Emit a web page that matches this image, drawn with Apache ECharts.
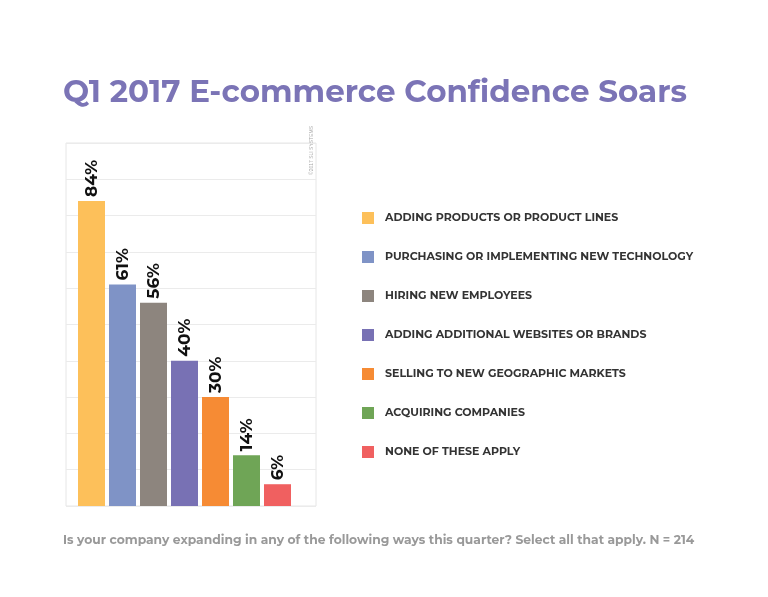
<!DOCTYPE html>
<html><head><meta charset="utf-8">
<script src="https://cdn.jsdelivr.net/npm/echarts@6/dist/echarts.min.js"></script>
<style>html,body{margin:0;background:#fff}#c{width:768px;height:597px}</style>
</head><body><div id="c"></div>
<script>
const categories = ['ADDING PRODUCTS OR PRODUCT LINES','PURCHASING OR IMPLEMENTING NEW TECHNOLOGY','HIRING NEW EMPLOYEES','ADDING ADDITIONAL WEBSITES OR BRANDS','SELLING TO NEW GEOGRAPHIC MARKETS','ACQUIRING COMPANIES','NONE OF THESE APPLY'];
const values = [84,61,56,40,30,14,6];
const colors = ['#FDC05A','#7F93C6','#8D857E','#7871B4','#F68B34','#6FA556','#F06060'];
const chart = echarts.init(document.getElementById('c'));
const font = 'Montserrat, "Open Sans", "DejaVu Sans", sans-serif';
const legendGraphics = [];
categories.forEach((c,i)=>{
  const y = 218 + i*39;
  legendGraphics.push({type:'rect',shape:{x:362,y:y-6,width:12,height:12},style:{fill:colors[i]}});
  legendGraphics.push({type:'text',x:385,y:y,style:{text:c,fill:'#333',font:'bold 11px '+font,textVerticalAlign:'middle'}});
});
chart.setOption({
  animation:false,
  title:[{text:'Q1 2017 E-commerce Confidence Soars',left:58,top:72,textStyle:{color:'#7B74B6',fontSize:31,fontWeight:'bold',fontFamily:font}},
    {text:'Is your company expanding in any of the following ways this quarter? Select all that apply. N = 214',left:58,top:529,textStyle:{color:'#999',fontSize:12.3,fontWeight:'bold',fontFamily:font}}],
  grid:[{left:66,top:143,width:250,height:363,show:true,borderColor:'#e6e6e6',borderWidth:1},
        {left:76,top:143,width:217,height:363}],
  xAxis:[{gridIndex:0,type:'category',data:[''],show:false},
         {gridIndex:1,type:'category',data:categories,axisLine:{show:false},axisTick:{show:false},axisLabel:{show:false}}],
  yAxis:[{gridIndex:0,type:'value',min:0,max:100,interval:10,axisLabel:{show:false},axisLine:{show:false},axisTick:{show:false},splitLine:{lineStyle:{color:'#ebebeb'}}},
         {gridIndex:1,type:'value',min:0,max:100,show:false,splitLine:{show:false}}],
  series:[{type:'bar',xAxisIndex:1,yAxisIndex:1,barWidth:27,
    data:values.map((v,i)=>({value:v,itemStyle:{color:colors[i]}})),
    label:{show:true,position:'top',rotate:90,align:'left',verticalAlign:'middle',distance:4,formatter:'{c}%',color:'#111',fontSize:17,fontWeight:'bold',fontFamily:font}}],
  graphic:[{type:'text',x:309,y:175,rotation:Math.PI/2,style:{text:'©2017 SLI SYSTEMS',fill:'#aaa',font:'5px sans-serif'}}].concat(legendGraphics)
});
</script></body></html>
